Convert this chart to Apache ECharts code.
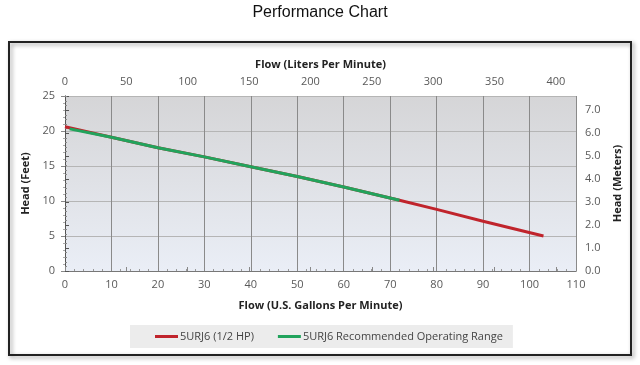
<!DOCTYPE html>
<html><head><meta charset="utf-8">
<script src="https://cdn.jsdelivr.net/npm/echarts@6/dist/echarts.min.js"></script>
<style>html,body{margin:0;padding:0;background:#fff}#c{width:640px;height:365px}</style>
</head><body><div id="c"></div>
<script>
// Data (flow in US gallons per minute, head in feet)
const pumpFlow = [0, 10, 20, 30, 40, 50, 60, 72, 80, 90, 103];
const pumpHead = [20.6, 19.1, 17.6, 16.3, 14.9, 13.5, 12.0, 10.1, 8.8, 7.1, 5.0];
const rangeFlow = [1, 10, 20, 30, 40, 50, 60, 72];
const rangeHead = [20.3, 19.1, 17.6, 16.3, 14.9, 13.5, 12.0, 10.1];
const seriesNames = ['5URJ6 (1/2 HP)', '5URJ6 Recommended Operating Range'];
const GAL_TO_L = 3.78541, FT_TO_M = 0.3048;

const chart = echarts.init(document.getElementById('c'));
const font = 'Open Sans, Liberation Sans, Arial, sans-serif';
const lab = {color:'#595959', fontSize:11, fontFamily:font};
const nm = {color:'#222', fontSize:11, fontWeight:'bold', fontFamily:font};
chart.setOption({
  animation:false,
  title:{text:'Performance Chart', left:'center', top:0, textStyle:{fontFamily:'Liberation Sans, Arial', fontWeight:'normal', fontSize:16, color:'#111'}},
  graphic:[{type:'rect', shape:{x:9, y:42, width:622, height:313}, style:{fill:'none', stroke:'#222', lineWidth:2, shadowColor:'rgba(0,0,0,0.4)', shadowBlur:4, shadowOffsetX:2, shadowOffsetY:2}, z:-1}],
  grid:{left:65, right:64, top:96, bottom:94, show:true, borderWidth:0,
    backgroundColor:new echarts.graphic.LinearGradient(0,0,0,1,[{offset:0,color:'#d5d5d7'},{offset:1,color:'#eaeef6'}])},
  legend:{bottom:17, left:130, backgroundColor:'#ececec', padding:[6,10,6,25], itemGap:24, itemWidth:23, itemHeight:3, icon:'rect',
    textStyle:{color:'#444', fontSize:11, fontFamily:font, padding:[0,0,0,-3]}, data:seriesNames},
  xAxis:[
    {type:'value', position:'bottom', min:0, max:110, interval:10,
     name:'Flow (U.S. Gallons Per Minute)', nameLocation:'middle', nameGap:29, nameTextStyle:nm,
     axisLabel:Object.assign({margin:8}, lab),
     axisLine:{show:true, lineStyle:{color:'#777'}}, axisTick:{show:true, inside:true, length:3, lineStyle:{color:'#888'}},
     minorTick:{show:true, splitNumber:5, length:2, lineStyle:{color:'#999'}},
     splitLine:{show:true, lineStyle:{color:'#8a8a8a', width:1}}},
    {type:'value', position:'top', min:0, max:110*GAL_TO_L, interval:50,
     name:'Flow (Liters Per Minute)', nameLocation:'middle', nameGap:26, nameTextStyle:nm,
     axisLabel:Object.assign({margin:9, showMaxLabel:false}, lab),
     axisLine:{show:true, lineStyle:{color:'#777'}}, axisTick:{show:true, length:4, lineStyle:{color:'#888'}},
     splitLine:{show:false}}
  ],
  yAxis:[
    {type:'value', position:'left', min:0, max:25, interval:5,
     name:'Head (Feet)', nameLocation:'middle', nameGap:33, nameTextStyle:nm,
     axisLabel:Object.assign({margin:10}, lab),
     axisLine:{show:true, lineStyle:{color:'#777'}}, axisTick:{show:true, length:4, lineStyle:{color:'#888'}},
     minorTick:{show:true, splitNumber:5, length:2, lineStyle:{color:'#aaa'}},
     splitLine:{show:true, lineStyle:{color:'#b5b5b5', width:1}}},
    {type:'value', position:'right', min:0, max:25*FT_TO_M, interval:1,
     name:'Head (Meters)', nameLocation:'middle', nameGap:36, nameTextStyle:nm,
     axisLabel:Object.assign({margin:9, showMaxLabel:false, formatter:v=>v.toFixed(1)}, lab),
     axisLine:{show:true, lineStyle:{color:'#555'}}, axisTick:{show:true, length:4, lineStyle:{color:'#555'}},
     minorTick:{show:true, splitNumber:5, length:2, lineStyle:{color:'#888'}},
     splitLine:{show:false}}
  ],
  series:[
    {name:seriesNames[0], type:'line', xAxisIndex:0, yAxisIndex:0, showSymbol:false, symbol:'none',
     data:pumpFlow.map((f,i)=>[f,pumpHead[i]]), lineStyle:{color:'#c0242c', width:3}, itemStyle:{color:'#c0242c'}},
    {name:seriesNames[1], type:'line', xAxisIndex:0, yAxisIndex:0, showSymbol:false, symbol:'none',
     data:rangeFlow.map((f,i)=>[f,rangeHead[i]]), lineStyle:{color:'#22a35c', width:3}, itemStyle:{color:'#22a35c'}}
  ]
});
</script></body></html>
